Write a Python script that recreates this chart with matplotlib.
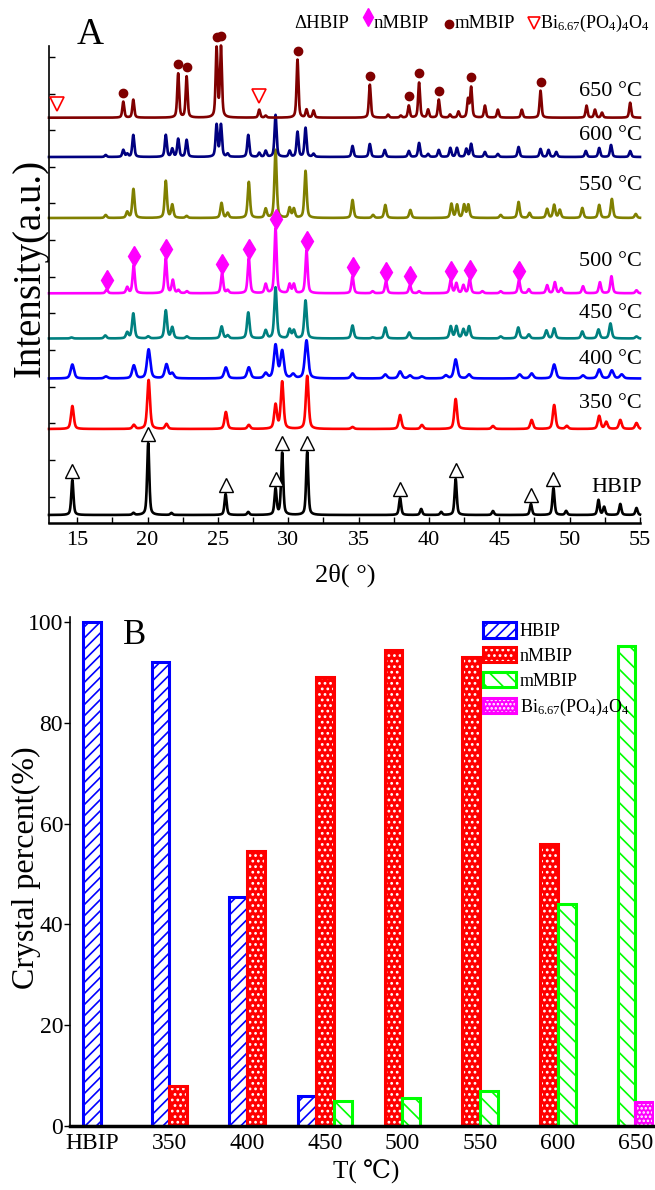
import numpy as np
import matplotlib
matplotlib.use('Agg')
import matplotlib.pyplot as plt
from matplotlib.lines import Line2D
from matplotlib.patches import Patch
from matplotlib.legend_handler import HandlerTuple

plt.rcParams['font.family'] = ['Liberation Serif', 'DejaVu Serif', 'DejaVu Sans']
plt.rcParams['mathtext.fontset'] = 'custom'
plt.rcParams['mathtext.rm'] = 'Liberation Serif'
plt.rcParams['mathtext.it'] = 'Liberation Serif:italic'
plt.rcParams['hatch.linewidth'] = 1.2

W, H = 655, 1190

# ---------------- panel A data: peak positions (2theta) and heights
pos_hbip = [14.66, 19.0, 20.05, 21.7, 25.55, 27.16, 29.1, 29.57, 31.35, 37.95, 39.45, 40.87,
            41.9, 44.55, 47.25, 48.85, 49.75, 52.05, 52.45, 53.6, 54.75]
hgt_hbip = [35, 2, 72, 2, 21, 3, 26, 62, 63, 17, 6, 3, 36, 4, 11, 27, 4, 15, 8, 11, 7]

pos_350 = [14.66, 19.03, 20.08, 21.35, 25.57, 27.2, 29.1, 29.57, 31.35, 34.57, 37.95, 39.5,
           41.9, 44.55, 47.3, 48.9, 49.8, 52.1, 52.6, 53.6, 54.75]
hgt_350 = [23, 4, 49, 5, 17, 4, 24, 47, 53, 2, 14, 4, 30, 3, 9, 24, 3, 13, 7, 9, 6]

pos_400 = [14.66, 17.05, 19.03, 20.08, 21.35, 21.76, 25.57, 27.2, 28.4, 29.1, 29.57, 30.35,
           31.3, 34.57, 36.9, 37.95, 38.65, 39.5, 41.2, 41.9, 42.85, 46.45, 47.3, 48.9,
           50.95, 52.1, 53.0, 53.7]
hgt_400 = [14, 2, 13, 29, 14, 5, 11, 11, 5, 33, 27, 4, 38, 5, 4, 7, 3, 2, 3, 19, 4, 4, 5,
           14, 3, 9, 8, 4]

pos_450 = [14.6, 17.0, 18.56, 18.99, 20.05, 21.3, 21.76, 22.8, 25.27, 25.7, 27.16, 28.4, 29.1,
           30.1, 30.4, 31.23, 34.57, 36.0, 36.9, 38.6, 41.55, 41.95, 42.45, 42.85, 45.1,
           46.35, 47.1, 48.35, 48.9, 50.9, 52.05, 52.9, 54.75]
hgt_450 = [1, 3, 6, 25, 2, 28, 11, 2, 12, 3, 26, 8, 51, 9, 8, 38, 13, 1, 11, 6, 12, 12, 9,
           12, 2, 11, 4, 8, 10, 7, 9, 15, 2]

pos_500 = [17.1, 18.56, 19.02, 21.3, 21.8, 22.2, 22.8, 25.3, 25.7, 27.2, 28.4, 29.1, 30.1,
           30.4, 31.3, 34.57, 36.0, 36.95, 38.65, 39.3, 41.55, 41.95, 42.45, 42.9, 43.8,
           45.1, 46.4, 47.1, 48.4, 48.95, 49.4, 50.95, 52.15, 52.97, 54.75]
hgt_500 = [4, 6, 28, 35, 13, 3, 2, 20, 3, 35, 9, 65, 9, 9, 43, 17, 2, 12, 8, 2, 13, 10, 8,
           14, 2, 2, 13, 4, 8, 11, 5, 7, 11, 17, 3]

pos_550 = [17.03, 18.56, 19.0, 21.3, 21.76, 22.78, 25.26, 25.7, 27.2, 28.4, 29.1, 30.1, 30.4,
           31.23, 34.57, 36.03, 36.9, 38.68, 41.6, 42.0, 42.5, 42.8, 45.1, 46.37, 47.15,
           48.4, 48.9, 49.3, 50.9, 52.1, 53.0, 54.7]
hgt_550 = [3, 6, 29, 37, 13, 2, 15, 5, 36, 9, 68, 10, 9, 47, 18, 3, 13, 8, 14, 13, 13, 13, 3,
           16, 5, 9, 13, 8, 10, 13, 19, 4]

pos_600 = [17.03, 18.28, 18.56, 18.99, 21.3, 21.76, 22.18, 22.78, 24.91, 25.22, 25.7, 27.16,
           27.94, 28.4, 29.1, 30.1, 30.66, 31.23, 31.8, 34.57, 35.8, 36.86, 38.57, 39.3,
           39.94, 40.7, 41.52, 41.99, 42.66, 43.0, 43.98, 44.9, 46.37, 47.93, 48.5, 49.05,
           51.15, 52.1, 52.94, 54.3]
hgt_600 = [2, 7, 3, 22, 22, 8, 18, 17, 32, 32, 3, 22, 4, 6, 42, 6, 25, 29, 3, 11, 13, 7, 6,
           14, 3, 7, 9, 9, 8, 13, 5, 3, 10, 8, 7, 5, 6, 9, 12, 6]

pos_650 = [18.28, 18.99, 22.18, 22.78, 24.91, 25.22, 27.94, 28.4, 30.66, 31.3, 31.8, 35.8,
           37.1, 38.0, 38.57, 39.3, 39.94, 40.7, 41.5, 42.1, 42.78, 43.0, 43.98, 44.9, 46.6,
           47.93, 51.2, 51.8, 52.3, 54.3]
hgt_650 = [16, 18, 44, 41, 69, 70, 8, 2, 58, 8, 7, 33, 3, 2, 12, 35, 8, 18, 3, 6, 18, 30, 12,
           8, 8, 27, 12, 8, 5, 15]

# phase markers (2theta)
mark_hbip = [14.66, 20.05, 25.55, 29.1, 29.57, 31.35, 37.95, 41.9, 47.25, 48.85]
mark_nmbip = [17.1, 19.02, 21.3, 25.3, 27.2, 29.1, 31.3, 34.57, 36.95, 38.65, 41.55, 42.9, 46.4]
mark_mmbip = [18.28, 22.18, 22.78, 24.91, 25.22, 30.66, 35.8, 38.57, 39.3, 40.7, 43.0, 47.93]
mark_bi = [13.55, 27.94]

# ---------------- panel B data
cats = ['HBIP', '350', '400', '450', '500', '550', '600', '650']
pct_hbip = [100, 92, 45.5, 6, 0, 0, 0, 0]
pct_nmbip = [0, 8, 54.5, 89, 94.5, 93, 56, 0]
pct_mmbip = [0, 0, 0, 5, 5.5, 7, 44, 95.2]
pct_bi = [0, 0, 0, 0, 0, 0, 0, 4.8]


def pattern(x, pos, hgt, w):
    y = np.zeros_like(x)
    for p, h in zip(pos, hgt):
        d = (x - p) / w
        y += h * (0.5 / (1 + 4 * d ** 2) + 0.5 * np.exp(-4 * np.log(2) * d ** 2))
    return y


fig = plt.figure(figsize=(W / 100, H / 100), dpi=100)

# ================= panel A
ax = fig.add_axes([49 / W, 1 - 523 / H, (640 - 49) / W, (523 - 46) / H])
tt = np.linspace(13, 55, 4201)

patterns = [
    ('HBIP', pos_hbip, hgt_hbip, 0.18, 8, 'black', 36),
    ('350 °C', pos_350, hgt_350, 0.23, 94, '#ff0000', 119),
    ('400 °C', pos_400, hgt_400, 0.28, 144.5, '#0000ff', 164),
    ('450 °C', pos_450, hgt_450, 0.21, 184.5, '#008080', 210),
    ('500 °C', pos_500, hgt_500, 0.19, 229.7, '#ff00ff', 262),
    ('550 °C', pos_550, hgt_550, 0.19, 305, '#808000', 338),
    ('600 °C', pos_600, hgt_600, 0.17, 366, '#000080', 388),
    ('650 °C', pos_650, hgt_650, 0.16, 405.3, '#800000', 431),
]
curves = {}
for name, pos, hgt, w, off, col, ylab in patterns:
    y = off + pattern(tt, pos, hgt, w)
    curves[name] = y
    ax.plot(tt, y, color=col, lw=1.9, zorder=2, clip_on=False)
    ax.text(55.15, ylab, name, ha='right', va='center', fontsize=16, clip_on=False)


def marks(name, angles, gap):
    return [np.interp(a, tt, curves[name]) + gap for a in angles]


ax.plot(mark_hbip, marks('HBIP', mark_hbip, 9), ls='none', marker='^', ms=9.5,
        mfc='white', mec='black', mew=1.0, zorder=3, clip_on=False)
ax.plot(mark_nmbip, marks('500 °C', mark_nmbip, 9), ls='none', marker='d', ms=10,
        mfc='#ff00ff', mec='#ff00ff', zorder=3, clip_on=False)
ax.plot(mark_mmbip, marks('650 °C', mark_mmbip, 9), ls='none', marker='o', ms=6,
        mfc='#800000', mec='#800000', zorder=3, clip_on=False)
ax.plot(mark_bi, marks('650 °C', mark_bi, 14), ls='none', marker='v', ms=10,
        mfc='white', mec='#ff0000', mew=1.2, zorder=3, clip_on=False)

ax.set_xlim(13, 55)
ax.set_ylim(0, 477)
ax.set_xticks(np.arange(15, 56, 5))
ax.set_xticks(np.arange(17.5, 55, 5), minor=True)
ax.set_yticks(np.arange(26.3, 470, 36.65))
ax.set_yticklabels([])
ax.tick_params(axis='x', which='both', direction='in', length=4, width=1, labelsize=16, pad=6)
ax.tick_params(axis='y', direction='in', length=4, width=1)
for s in ['top', 'right']:
    ax.spines[s].set_visible(False)
ax.spines['left'].set_linewidth(1.2)
ax.spines['bottom'].set_linewidth(1.8)

fig.text(30 / W, 1 - 268 / H, 'Intensity(a.u.)', rotation=90, ha='center', va='center',
         fontsize=28)
fig.text(345 / W, 1 - 575 / H, '2θ( °)', ha='center', va='center', fontsize=19)
fig.text(90 / W, 1 - 35 / H, 'A', ha='center', va='center', fontsize=27)

# legend line of panel A
fig.text(294 / W, 1 - 23 / H, 'ΔHBIP', ha='left', va='center', fontsize=13.5)
fig.add_artist(Line2D([368 / W], [1 - 17 / H], transform=fig.transFigure, marker='d', ms=9,
                      color='#ff00ff', ls='none'))
fig.text(374 / W, 1 - 23 / H, 'nMBIP', ha='left', va='center', fontsize=13.5)
fig.add_artist(Line2D([449 / W], [1 - 24 / H], transform=fig.transFigure, marker='o', ms=6,
                      color='#800000', ls='none'))
fig.text(455 / W, 1 - 23 / H, 'mMBIP', ha='left', va='center', fontsize=13.5)
fig.add_artist(Line2D([534 / W], [1 - 23 / H], transform=fig.transFigure, marker='v', ms=9,
                      mfc='white', mec='#ff0000', mew=1.2, ls='none'))
fig.text(540 / W, 1 - 23 / H, 'Bi$_{6.67}$(PO$_4$)$_4$O$_4$', ha='left', va='center',
         fontsize=13)

# ================= panel B
bx = fig.add_axes([70 / W, 1 - 1126 / H, (654 - 70) / W, (1126 - 617) / H])
phases = [pct_hbip, pct_nmbip, pct_mmbip, pct_bi]
bw = 0.23


def draw_bar(k, xc, v):
    if k == 0:
        bx.bar(xc, v, bw, facecolor='white', edgecolor='#0000ff', hatch='///', lw=2.2)
    elif k == 1:
        bx.bar(xc, v, bw, facecolor='#ff0000', edgecolor='white', hatch='...', lw=0)
        bx.bar(xc, v, bw, facecolor='none', edgecolor='#ff0000', lw=2.2)
    elif k == 2:
        bx.bar(xc, v, bw, facecolor='white', edgecolor='#00ff00', hatch='\\\\', lw=2.2)
    else:
        bx.bar(xc, v, bw, facecolor='#ff00ff', edgecolor='white', hatch='....', lw=0)
        bx.bar(xc, v, bw, facecolor='none', edgecolor='#ff00ff', lw=2.2)


for i in range(len(cats)):
    present = [k for k in range(4) if phases[k][i] > 0]
    n = len(present)
    for j, k in enumerate(present):
        draw_bar(k, i + (j - (n - 1) / 2) * bw, phases[k][i])

bx.set_xlim(-0.28, 7.24)
bx.set_ylim(0, 101)
bx.set_xticks(range(len(cats)))
bx.set_xticklabels(cats)
bx.set_yticks(np.arange(0, 101, 20))
bx.tick_params(axis='x', length=0, labelsize=17, pad=5)
bx.tick_params(axis='y', direction='out', length=4, width=1, labelsize=17, pad=1)
for s in ['top', 'right']:
    bx.spines[s].set_visible(False)
bx.spines['left'].set_linewidth(1.2)
bx.spines['bottom'].set_linewidth(2.5)

h_hbip = Patch(facecolor='white', edgecolor='#0000ff', hatch='///', lw=2.2)
h_nm = (Patch(facecolor='#ff0000', edgecolor='white', hatch='...', lw=0),
        Patch(facecolor='none', edgecolor='#ff0000', lw=2.2))
h_mm = Patch(facecolor='white', edgecolor='#00ff00', hatch='\\\\', lw=2.2)
h_bi = (Patch(facecolor='#ff00ff', edgecolor='white', hatch='....', lw=0),
        Patch(facecolor='none', edgecolor='#ff00ff', lw=2.2))
bx.legend([h_hbip, h_nm, h_mm, h_bi],
          ['HBIP', 'nMBIP', 'mMBIP', 'Bi$_{6.67}$(PO$_4$)$_4$O$_4$'],
          handler_map={tuple: HandlerTuple(ndivide=1)},
          loc='upper left', bbox_to_anchor=(483 / W, 1 - 622 / H),
          bbox_transform=fig.transFigure, frameon=False, fontsize=13,
          handlelength=1.8, handleheight=0.95, labelspacing=0.38, handletextpad=0.25,
          borderpad=0, borderaxespad=0)

fig.text(26 / W, 1 - 868 / H, 'Crystal percent(%)', rotation=90, ha='center', va='center',
         fontsize=23)
fig.text(366 / W, 1 - 1172 / H, 'T( ℃)', ha='center', va='center', fontsize=18)
fig.text(135 / W, 1 - 636 / H, 'B', ha='center', va='center', fontsize=25)

fig.savefig('out.png', dpi=100)
